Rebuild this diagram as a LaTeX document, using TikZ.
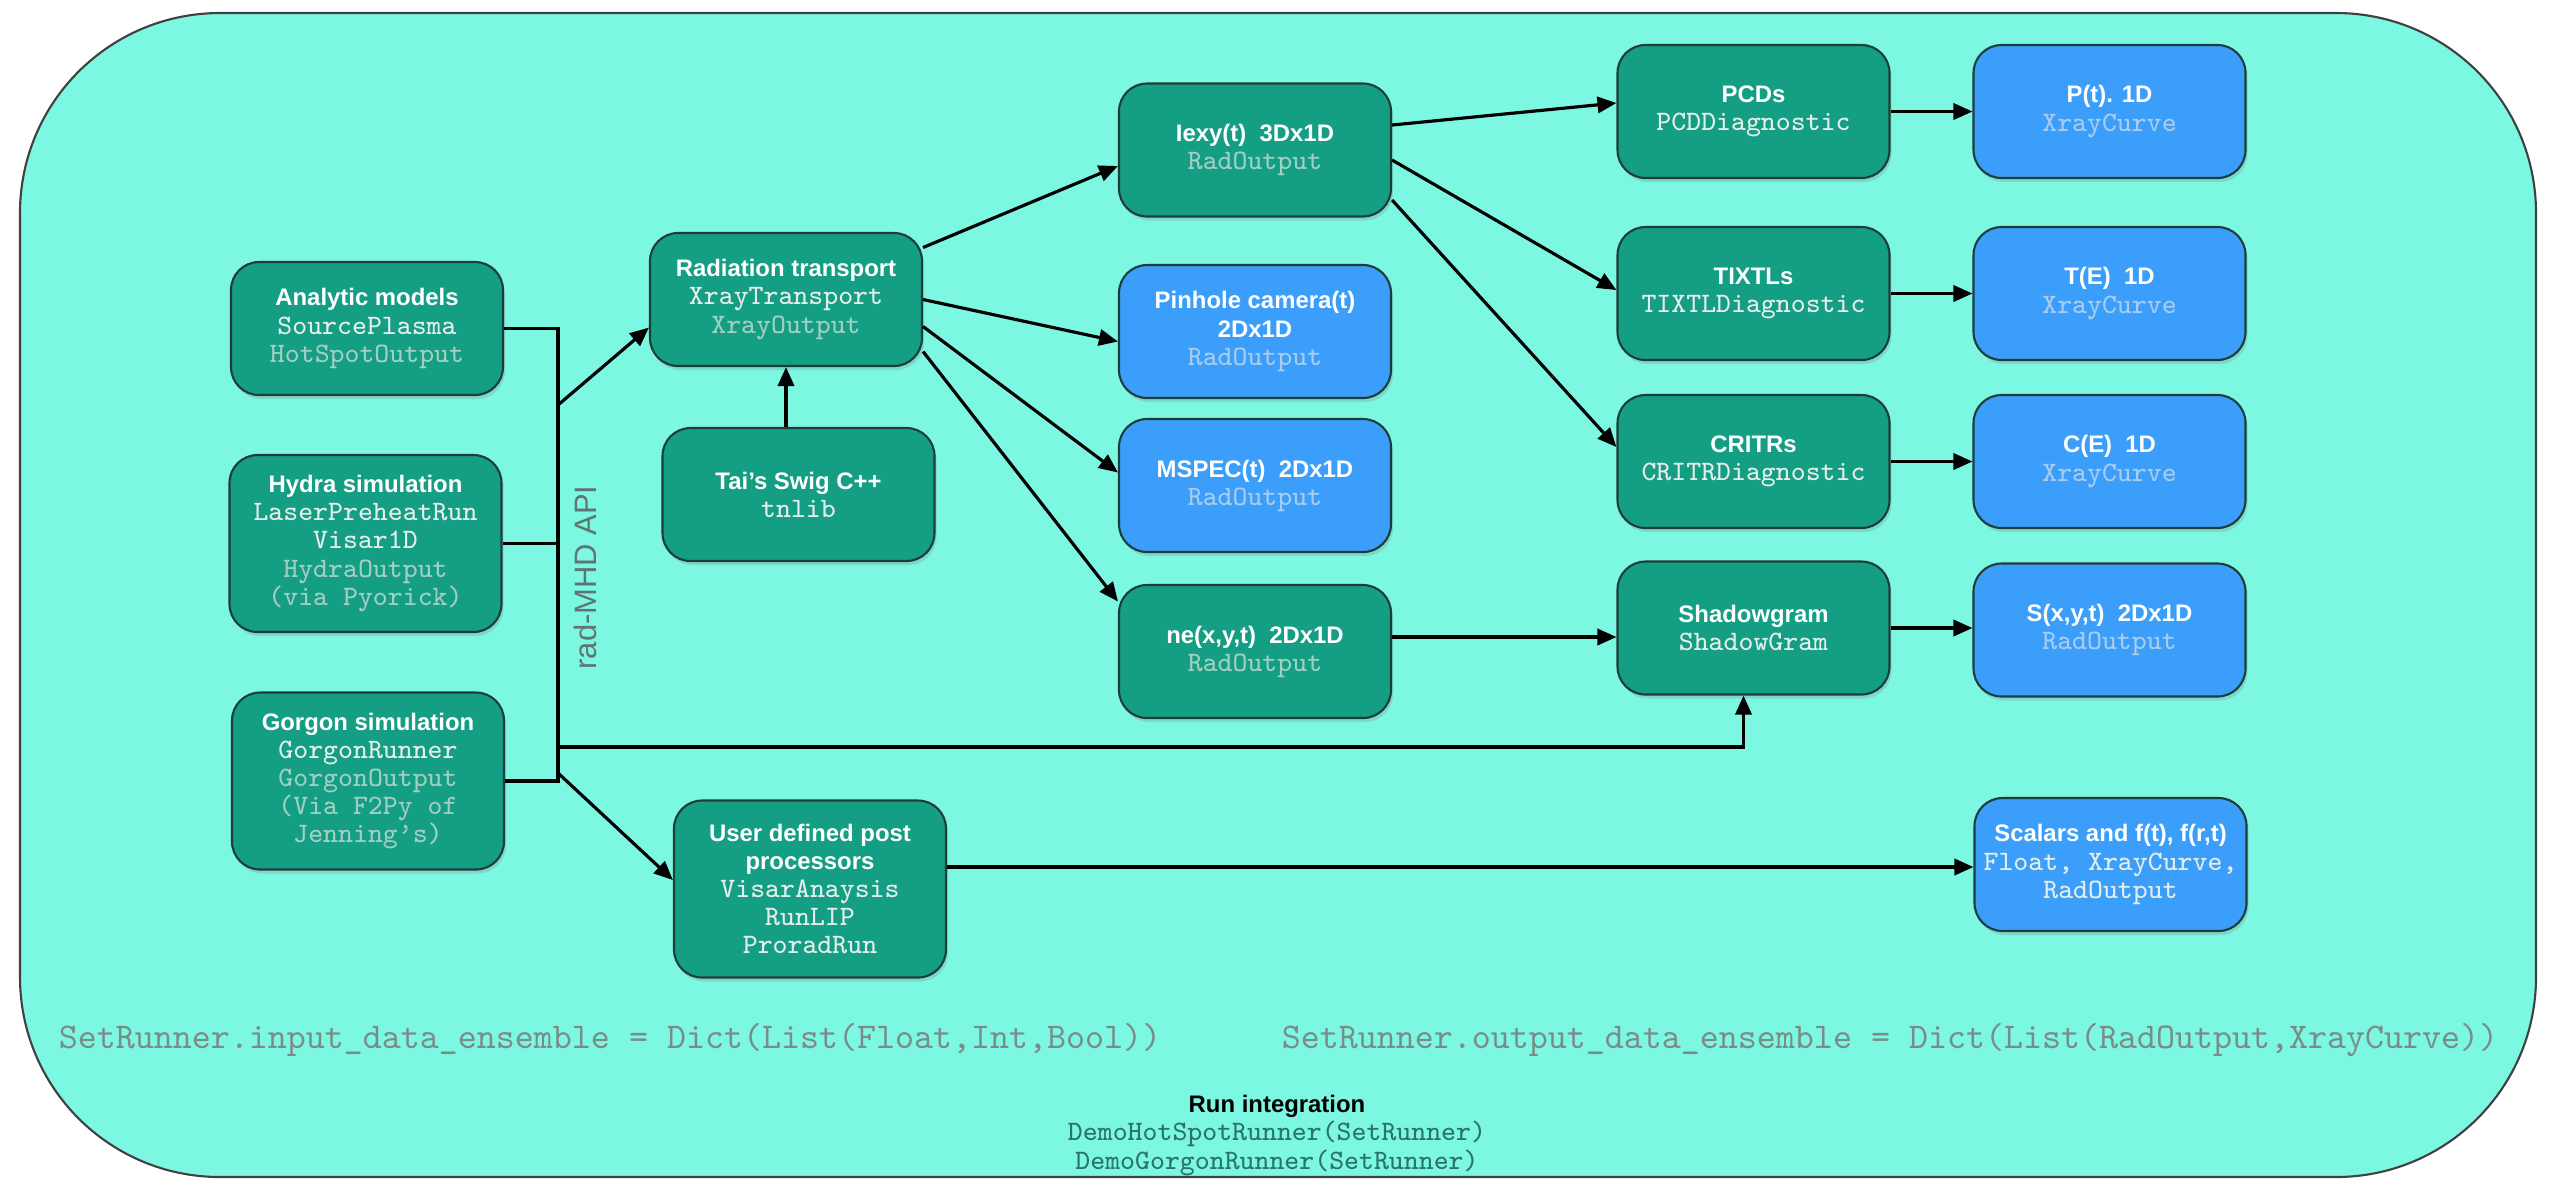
\documentclass[tikz,border=0pt]{standalone}
\usepackage{fontspec}
\setsansfont{Liberation Sans}
\usepackage{tikz}
\usetikzlibrary{arrows.meta,shadows}
\definecolor{bgcyan}{HTML}{7BF7E2}
\definecolor{boxgreen}{HTML}{149E84}
\definecolor{boxblue}{HTML}{3A9EFA}
\definecolor{boxline}{HTML}{1F3D38}
\definecolor{fadegreen}{HTML}{A3CFC3}
\definecolor{fadeblue}{HTML}{AACCEE}
\definecolor{clsgrey}{HTML}{E6EEEB}
\definecolor{apigrey}{HTML}{5E7572}
\definecolor{ensgrey}{HTML}{7A8C88}
\definecolor{demoteal}{HTML}{2A7468}
\colorlet{fadetxt}{fadegreen}

\newcommand{\boxttl}[1]{{\sffamily\bfseries\fontsize{6.8pt}{8pt}\selectfont #1}}
\newcommand{\boxcls}[1]{{\ttfamily\color{clsgrey}#1}}
\newcommand{\boxout}[1]{{\ttfamily\color{fadetxt}#1}}

\tikzset{
  >={Triangle[length=5.4pt,width=4.6pt]},
  box/.style={draw=boxline, line width=0.6pt, rounded corners=0.28cm,
    minimum width=2.72cm, minimum height=1.33cm, inner sep=1pt, align=center,
    text=white, font=\fontsize{8pt}{8pt}\selectfont,
    drop shadow={shadow xshift=0.02cm, shadow yshift=-0.04cm, opacity=0.25}},
  gbox/.style={box, fill=boxgreen, execute at begin node={\colorlet{fadetxt}{fadegreen}}},
  bbox/.style={box, fill=boxblue, execute at begin node={\colorlet{fadetxt}{fadeblue}}},
  tall/.style={minimum height=1.77cm},
  wire/.style={line width=0.9pt},
  link/.style={wire, ->},
}

\begin{document}
\begin{tikzpicture}

\fill[white] (0,0) rectangle (25.49,-11.82);
\useasboundingbox (0,0) rectangle (25.49,-11.82);
\draw[fill=bgcyan, draw=black!75, line width=0.6pt, rounded corners=2cm] (0.2,-0.13) rectangle (25.36,-11.77);

% inputs
\node[gbox] (analytic) at (3.67,-3.285) {\boxttl{Analytic models}\\\boxcls{SourcePlasma}\\\boxout{HotSpotOutput}};
\node[gbox,tall] (hydra) at (3.655,-5.435) {\boxttl{Hydra simulation}\\\boxcls{LaserPreheatRun}\\\boxcls{Visar1D}\\\boxout{HydraOutput}\\\boxout{(via Pyorick)}};
\node[gbox,tall] (gorgon) at (3.68,-7.81) {\boxttl{Gorgon simulation}\\\boxcls{GorgonRunner}\\\boxout{GorgonOutput}\\\boxout{(Via F2Py of}\\\boxout{Jenning’s)}};

% transport and post processing
\node[gbox] (radtrans) at (7.86,-2.995) {\boxttl{Radiation transport}\\\boxcls{XrayTransport}\\\boxout{XrayOutput}};
\node[gbox] (tai) at (7.985,-4.945) {\boxttl{Tai’s Swig C++}\\\boxcls{tnlib}};
\node[gbox,tall] (userpost) at (8.10,-8.89) {\boxttl{User defined post}\\\boxttl{processors}\\\boxcls{VisarAnaysis}\\\boxcls{RunLIP}\\\boxcls{ProradRun}};

\node[gbox] (iexy) at (12.55,-1.50) {\boxttl{Iexy(t)\ \ 3Dx1D}\\\boxout{RadOutput}};
\node[bbox] (pinhole) at (12.55,-3.315) {\boxttl{Pinhole camera(t)}\\\boxttl{2Dx1D}\\\boxout{RadOutput}};
\node[bbox] (mspec) at (12.55,-4.855) {\boxttl{MSPEC(t)\ \ 2Dx1D}\\\boxout{RadOutput}};
\node[gbox] (nexyt) at (12.55,-6.515) {\boxttl{ne(x,y,t)\ \ 2Dx1D}\\\boxout{RadOutput}};

% diagnostics
\node[gbox] (pcds) at (17.535,-1.115) {\boxttl{PCDs}\\\boxcls{PCDDiagnostic}};
\node[gbox] (tixtls) at (17.535,-2.935) {\boxttl{TIXTLs}\\\boxcls{TIXTLDiagnostic}};
\node[gbox] (critrs) at (17.535,-4.615) {\boxttl{CRITRs}\\\boxcls{CRITRDiagnostic}};
\node[gbox] (shadowgram) at (17.535,-6.28) {\boxttl{Shadowgram}\\\boxcls{ShadowGram}};

\node[bbox] (pcurve) at (21.095,-1.115) {\boxttl{P(t). 1D}\\\boxout{XrayCurve}};
\node[bbox] (tcurve) at (21.095,-2.935) {\boxttl{T(E)\ \ 1D}\\\boxout{XrayCurve}};
\node[bbox] (ccurve) at (21.095,-4.615) {\boxttl{C(E)\ \ 1D}\\\boxout{XrayCurve}};
\node[bbox] (scurve) at (21.095,-6.30) {\boxttl{S(x,y,t)\ \ 2Dx1D}\\\boxout{RadOutput}};
\node[bbox] (scalars) at (21.105,-8.645) {\boxttl{Scalars and f(t), f(r,t)}\\\boxcls{Float, XrayCurve,}\\\boxcls{RadOutput}};

% rad-MHD bus
\coordinate (bus) at (5.58,0);
\coordinate (busA) at (5.58,-4.05);
\coordinate (busB) at (5.58,-7.47);
\coordinate (busC) at (5.58,-7.73);
\draw[wire] (analytic.east) -- (analytic.east -| bus) -- (gorgon.east -| bus) -- (gorgon.east);
\draw[wire] (hydra.east) -- (hydra.east -| bus);
\node[rotate=90, text=apigrey, font=\sffamily\fontsize{8.8pt}{10pt}\selectfont] (api) at (5.85,-5.775) {rad-MHD API};

\draw[link] (busA) -- ([yshift=-0.28cm]radtrans.west);
\draw[link] (busB) -| ([xshift=-0.1cm]shadowgram.south);
\draw[link] (busC) -- ([yshift=0.09cm]userpost.west);
\draw[link] (tai.north -| radtrans.south) -- (radtrans.south);

\foreach \from/\to/\dy in {0.52/iexy/-0.16, 0/pinhole/-0.1, -0.27/mspec/0.13, -0.52/nexyt/0.5}
    \draw[link] ([yshift=\from cm]radtrans.east) -- ([yshift=\dy cm]\to.west);

\foreach \from/\to/\dy in {0.25/pcds/0.085, -0.1/tixtls/0.035, -0.5/critrs/0.145}
    \draw[link] ([yshift=\from cm]iexy.east) -- ([yshift=\dy cm]\to.west);

\draw[link] ([yshift=0.145cm]nexyt.east) -- ([yshift=0.145cm]nexyt.east -| shadowgram.west);

\foreach \from/\to in {pcds/pcurve, tixtls/tcurve, critrs/ccurve, shadowgram/scurve}
    \draw[link] (\from.east) -- (\from.east -| \to.west);

\draw[link] ([yshift=0.22cm]userpost.east) -- ([yshift=0.22cm]userpost.east -| scalars.west);

% ensembles and run integration
\node[text=ensgrey, font=\ttfamily\fontsize{10.3pt}{12pt}\selectfont] (inens) at (6.10,-10.40) {SetRunner.input\_data\_ensemble = Dict(List(Float,Int,Bool))};
\node[text=ensgrey, font=\ttfamily\fontsize{10.3pt}{12pt}\selectfont] (outens) at (18.90,-10.40) {SetRunner.output\_data\_ensemble = Dict(List(RadOutput,XrayCurve))};
\node[align=center, inner sep=0pt, font=\fontsize{8pt}{8pt}\selectfont] (runint) at (12.77,-11.355) {\boxttl{Run integration}\\{\ttfamily\color{demoteal}DemoHotSpotRunner(SetRunner)}\\{\ttfamily\color{demoteal}DemoGorgonRunner(SetRunner)}};

\end{tikzpicture}
\end{document}
